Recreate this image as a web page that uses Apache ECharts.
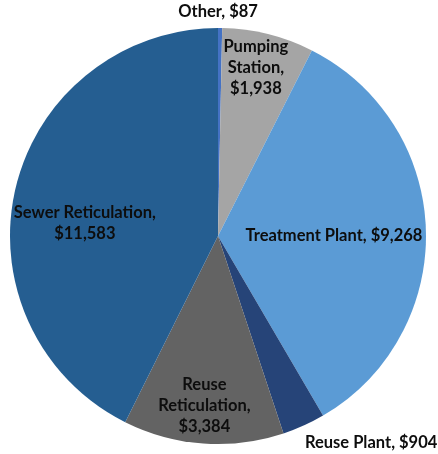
<!DOCTYPE html>
<html><head><meta charset="utf-8">
<script src="https://cdn.jsdelivr.net/npm/echarts@6/dist/echarts.min.js"></script>
<style>html,body{margin:0;padding:0;background:#fff}#c{width:438px;height:454px}</style>
</head><body><div id="c"></div>
<script>
const categories = ['Other', 'Pumping Station', 'Treatment Plant', 'Reuse Plant', 'Reuse Reticulation', 'Sewer Reticulation'];
const values = [87, 1938, 9268, 904, 3384, 11583];
const labelTexts = ['Other, $87', 'Pumping\nStation,\n$1,938', 'Treatment Plant, $9,268', 'Reuse Plant, $904', 'Reuse\nReticulation,\n$3,384', 'Sewer Reticulation,\n$11,583'];
const colors = ['#4472C4', '#A5A5A5', '#5B9BD5', '#264478', '#636363', '#255E91'];
const labelOffsets = [[-1, -117], [12, -65], [9, 3], [109, 109], [-6, 63], [-29, 12]];

const chart = echarts.init(document.getElementById('c'), null, {renderer: 'canvas'});
chart.setOption({
  backgroundColor: '#ffffff',
  animation: false,
  series: [{
    type: 'pie',
    center: [218, 236],
    radius: [0, 208],
    startAngle: 90,
    clockwise: true,
    avoidLabelOverlap: false,
    labelLine: {show: false},
    itemStyle: {borderWidth: 0},
    label: {
      show: true,
      position: 'inside',
      fontFamily: 'Lato, "Open Sans", sans-serif',
      fontWeight: 'bold',
      fontSize: 16.5,
      lineHeight: 21,
      color: '#0d0d0d',
      align: 'center'
    },
    data: categories.map((name, i) => ({
      name: name,
      value: values[i],
      itemStyle: {color: colors[i]},
      label: {formatter: labelTexts[i], offset: labelOffsets[i]}
    }))
  }]
});
</script></body></html>
